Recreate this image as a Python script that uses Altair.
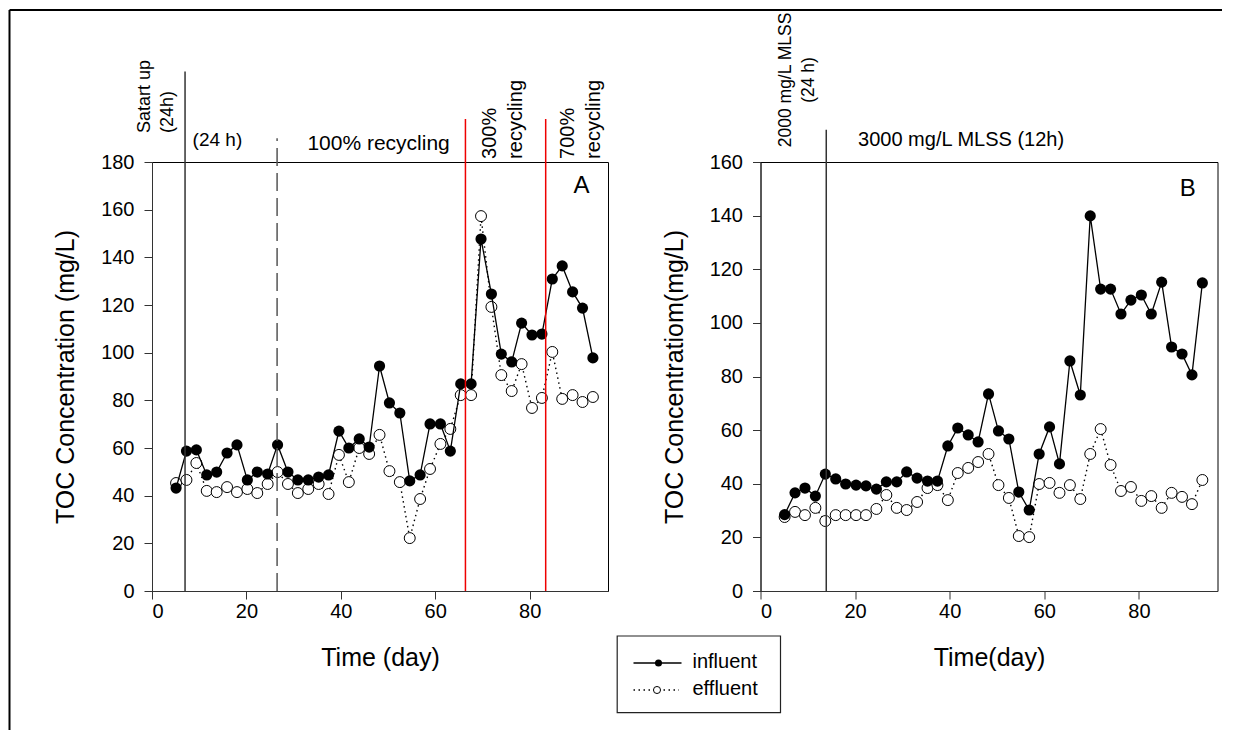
import altair as alt
import pandas as pd

FONT = "Liberation Sans"

# ---------------- data ----------------
days = [5.1, 7.3, 9.4, 11.6, 13.7, 15.9, 18.0, 20.2, 22.3, 24.5, 26.6, 28.8, 30.9, 33.1,
        35.3, 37.4, 39.6, 41.7, 43.9, 46.0, 48.2, 50.3, 52.5, 54.6, 56.8, 58.9, 61.1, 63.2,
        65.4, 67.6, 69.7, 71.9, 74.0, 76.2, 78.3, 80.5, 82.6, 84.8, 86.9, 89.1, 91.2, 93.4]

a_influent = [43.2, 58.7, 59.2, 48.7, 49.9, 57.9, 61.3, 46.6, 49.9, 49.1, 61.3, 49.9, 46.6, 46.6,
              47.8, 48.7, 67.1, 60.0, 63.8, 60.4, 94.4, 78.9, 74.7, 46.2, 48.7, 70.1, 70.1, 58.7,
              86.9, 86.9, 147.7, 124.6, 99.4, 96.1, 112.4, 107.4, 107.8, 130.9, 136.4, 125.5, 118.7, 97.8]
a_effluent = [45.3, 46.6, 53.7, 42.0, 41.5, 43.6, 41.5, 42.8, 41.1, 44.9, 49.9, 44.9, 41.1, 42.8,
              44.9, 40.7, 57.1, 45.7, 60.0, 57.5, 65.5, 50.3, 45.7, 22.2, 38.6, 51.2, 61.7, 68.0,
              82.2, 82.2, 157.3, 119.2, 90.6, 83.9, 95.2, 76.8, 81.0, 100.3, 80.6, 82.2, 79.3, 81.4]

b_influent = [28.5, 36.6, 38.4, 35.4, 43.6, 41.8, 39.9, 39.5, 39.2, 38.0, 40.7, 40.7, 44.4, 42.1,
              41.0, 41.0, 54.1, 60.8, 58.2, 55.6, 73.5, 59.7, 56.7, 36.9, 30.2, 51.1, 61.2, 47.4,
              85.8, 73.1, 139.9, 112.6, 112.6, 103.3, 108.5, 110.4, 103.3, 115.2, 91.0, 88.4, 80.6, 114.9]
b_effluent = [27.6, 29.5, 28.3, 31.0, 26.1, 28.3, 28.3, 28.3, 28.3, 30.6, 35.8, 31.0, 30.2, 33.2,
              38.4, 39.5, 33.9, 44.0, 45.9, 48.1, 51.1, 39.5, 34.7, 20.5, 20.1, 39.9, 40.3, 36.6,
              39.5, 34.3, 51.1, 60.4, 47.0, 37.3, 38.8, 33.6, 35.4, 31.0, 36.6, 35.1, 32.4, 41.4]

x_ticks = [0, 20, 40, 60, 80]
a_y_ticks = [0, 20, 40, 60, 80, 100, 120, 140, 160, 180]
b_y_ticks = [0, 20, 40, 60, 80, 100, 120, 140, 160]

# vertical event lines: (day, bottom, top)
a_black_lines = [(7.0, 0, 218)]
a_dashed_lines = [(26.5, 0, 190)]
a_red_lines = [(66.4, 0, 198), (83.4, 0, 198)]
b_black_lines = [(13.9, 0, 172)]

# annotations: (day, toc, text)
a_rot_small = [(-1.4, 192.2, "Satart up\n(24h)")]
a_rot_big = [(71.7, 181.3, "300%\nrecycling"), (88.1, 181.3, "700%\nrecycling")]
a_horiz = [(8.6, 189.2, "(24 h)", 19), (48.0, 187.6, "100% recycling", 21)]
a_letter = [(91.0, 169.9, "A")]
b_rot = [(5.3, 190.6, "2000 mg/L MLSS\n(24 h)")]
b_horiz = [(42.4, 168.2, "3000 mg/L MLSS (12h)", 20)]
b_letter = [(90.3, 149.9, "B")]

XMAX = 96.6


def panel(infl, effl, ymax, yticks, ytitle, xtitle, black, dashed, red, texts_rot,
          texts_horiz, letter):
    xs = alt.Scale(domain=[0, XMAX], nice=False, zero=False)
    ys = alt.Scale(domain=[0, ymax], nice=False)
    xax = alt.Axis(values=x_ticks, title=xtitle, titlePadding=24, labelPadding=2)
    yax = alt.Axis(values=yticks, title=ytitle, titlePadding=22, labelPadding=10)
    X = alt.X("day:Q", scale=xs, axis=xax)
    Y = alt.Y("toc:Q", scale=ys, axis=yax)

    df_e = pd.DataFrame({"day": days, "toc": effl})
    df_i = pd.DataFrame({"day": days, "toc": infl})

    layers = []
    layers.append(alt.Chart(df_e).mark_line(color="black", strokeWidth=1.4, strokeDash=[1.5, 3.5]).encode(x=X, y=Y))
    layers.append(alt.Chart(df_e).mark_point(shape="circle", filled=True, fill="white", stroke="black",
                                             strokeWidth=1, size=120, opacity=1).encode(x=X, y=Y))
    layers.append(alt.Chart(df_i).mark_line(color="black", strokeWidth=1.3).encode(x=X, y=Y))
    layers.append(alt.Chart(df_i).mark_point(shape="circle", filled=True, fill="black", size=125,
                                             opacity=1).encode(x=X, y=Y))

    def rules(lst, **kw):
        d = pd.DataFrame(lst, columns=["day", "toc", "toc2"])
        return alt.Chart(d).mark_rule(**kw).encode(x=X, y=Y, y2="toc2:Q")

    if black:
        layers.append(rules(black, color="#333333", strokeWidth=1.5))
    if dashed:
        layers.append(rules(dashed, color="#555555", strokeWidth=1.5, strokeDash=[18, 7]))
    if red:
        layers.append(rules(red, color="#ee0000", strokeWidth=1.5))

    def texts(lst, **kw):
        d = pd.DataFrame(lst, columns=["day", "toc", "label"])
        return alt.Chart(d).mark_text(font=FONT, color="black", lineBreak="\n", **kw).encode(
            x=X, y=Y, text="label:N")

    for (spec, kw) in texts_rot:
        layers.append(texts(spec, **kw))
    for d_, t_, lab, fs in texts_horiz:
        layers.append(texts([(d_, t_, lab)], fontSize=fs, align="center" if lab != "(24 h)" else "left",
                            baseline="middle"))
    layers.append(texts(letter, fontSize=24, align="center", baseline="middle"))
    return layers


a_layers = panel(
    a_influent, a_effluent, 180, a_y_ticks, "TOC Concentration (mg/L)", "Time (day)",
    a_black_lines, a_dashed_lines, a_red_lines,
    [(a_rot_small, dict(fontSize=18, angle=270, align="left", baseline="middle", lineHeight=23)),
     (a_rot_big, dict(fontSize=20, angle=270, align="left", baseline="middle", lineHeight=26))],
    a_horiz, a_letter)

# legend and figure frame (drawn in panel A's pixel space)
one = pd.DataFrame({"k": [0]})
legend_items = ["influent", "effluent"]
frame = [
    alt.Chart(one).mark_rule(color="black", strokeWidth=2).encode(
        x=alt.value(-142.5), y=alt.value(-152), y2=alt.value(568)),
    alt.Chart(one).mark_rule(color="black", strokeWidth=2).encode(
        x=alt.value(-142.5), x2=alt.value(1070), y=alt.value(-152)),
    alt.Chart(one).mark_rect(fill="white", stroke="#222222", strokeWidth=1.2).encode(
        x=alt.value(465.2), x2=alt.value(628.5), y=alt.value(474), y2=alt.value(550.7)),
    alt.Chart(one).mark_rule(color="black", strokeWidth=1.3).encode(
        x=alt.value(481.5), x2=alt.value(529.5), y=alt.value(501)),
    alt.Chart(one).mark_point(shape="circle", filled=True, fill="black", size=50, opacity=1).encode(
        x=alt.value(506.5), y=alt.value(501)),
    alt.Chart(one).mark_rule(color="black", strokeWidth=1.4, strokeDash=[1.5, 3.5]).encode(
        x=alt.value(481.5), x2=alt.value(527), y=alt.value(528)),
    alt.Chart(one).mark_point(shape="circle", filled=True, fill="white", stroke="black", strokeWidth=1,
                              size=50, opacity=1).encode(x=alt.value(505), y=alt.value(528)),
    alt.Chart(one).mark_text(font=FONT, fontSize=20, align="left", baseline="middle", color="black",
                             text=legend_items[0]).encode(x=alt.value(540.5), y=alt.value(500)),
    alt.Chart(one).mark_text(font=FONT, fontSize=20, align="left", baseline="middle", color="black",
                             text=legend_items[1]).encode(x=alt.value(540.5), y=alt.value(527)),
]

chart_a = alt.layer(*a_layers, *frame).properties(width=456, height=429)

b_layers = panel(
    b_influent, b_effluent, 160, b_y_ticks, "TOC Concentratiom(mg/L)", "Time(day)",
    b_black_lines, None, None,
    [(b_rot, dict(fontSize=17.5, angle=270, align="center", baseline="middle", lineHeight=23))],
    b_horiz, b_letter)
chart_b = alt.layer(*b_layers).properties(width=457, height=429)

chart = alt.hconcat(chart_a, chart_b, spacing=152.5, bounds="flush").properties(
    padding=0, background="white"
).configure_view(
    stroke="black", strokeWidth=1
).configure_axis(
    labelFont=FONT, titleFont=FONT, labelFontSize=20, titleFontSize=25, titleFontWeight="normal",
    labelColor="black", titleColor="black", domainColor="#333333", tickColor="#333333",
    tickSize=8, grid=False, domainWidth=1
)

chart.save("out.html", embed_options={"renderer": "svg", "actions": False})
